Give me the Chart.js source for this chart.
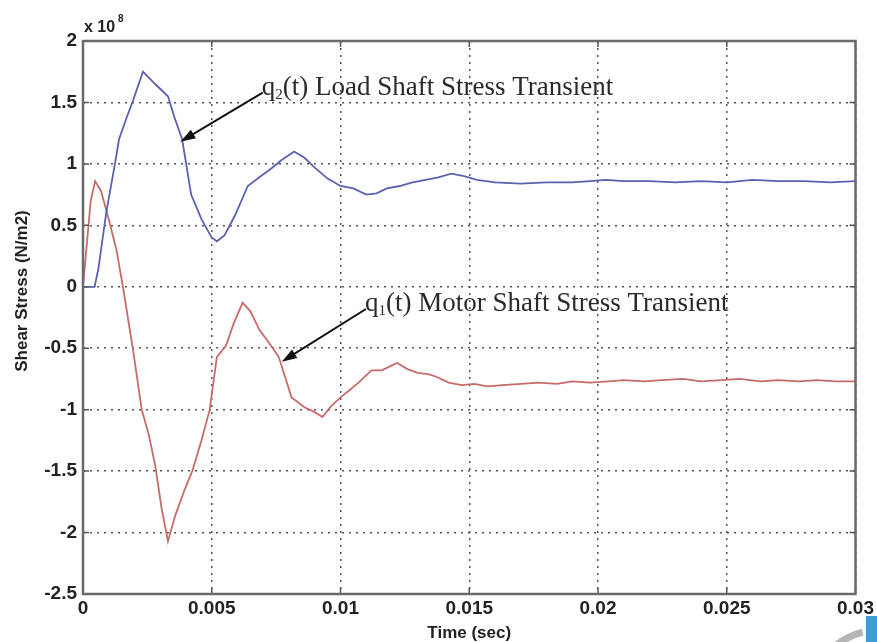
<!DOCTYPE html>
<html>
<head>
<meta charset="utf-8">
<script src="https://cdn.jsdelivr.net/npm/chart.js@4.4.0/dist/chart.umd.min.js"></script>
<style>
  body { margin: 0; background: #fff; }
  canvas { display: block; }
</style>
</head>
<body>
<canvas id="stress_canvas" width="877" height="642"></canvas>
<script>
// data (stress in units of 10^8 N/m2, time in sec)

const loadTime = [0, 0.00045, 0.0006, 0.0009, 0.00124, 0.0014, 0.0017, 0.00195, 0.00233, 0.0028, 0.0033, 0.00355, 0.00385, 0.0042, 0.0046, 0.005, 0.0052, 0.0055, 0.0059, 0.0064, 0.0069, 0.0073, 0.0077, 0.0082, 0.0086, 0.009, 0.0095, 0.01, 0.0105, 0.011, 0.0114, 0.0118, 0.0123, 0.0128, 0.0133, 0.0138, 0.0143, 0.0148, 0.0153, 0.016, 0.017, 0.018, 0.019, 0.0197, 0.0203, 0.021, 0.022, 0.023, 0.024, 0.025, 0.026, 0.027, 0.028, 0.029, 0.03];
const loadStress = [0, 0, 0.15, 0.6, 1.0, 1.2, 1.38, 1.52, 1.75, 1.65, 1.55, 1.38, 1.2, 0.75, 0.55, 0.4, 0.37, 0.42, 0.58, 0.82, 0.9, 0.96, 1.03, 1.1, 1.05, 0.97, 0.88, 0.82, 0.8, 0.75, 0.76, 0.8, 0.82, 0.85, 0.87, 0.89, 0.92, 0.9, 0.87, 0.85, 0.84, 0.85, 0.85, 0.86, 0.87, 0.86, 0.86, 0.85, 0.86, 0.85, 0.87, 0.86, 0.86, 0.85, 0.86];

const motorTime = [0, 0.00015, 0.0003, 0.00047, 0.0007, 0.001, 0.0013, 0.00155, 0.00194, 0.00228, 0.00255, 0.0028, 0.00305, 0.0033, 0.0036, 0.00395, 0.00426, 0.0046, 0.00492, 0.00505, 0.0052, 0.00555, 0.00585, 0.0062, 0.0065, 0.00685, 0.0072, 0.0076, 0.0081, 0.0086, 0.009, 0.0093, 0.0096, 0.01, 0.0103, 0.0107, 0.0112, 0.0116, 0.012, 0.0122, 0.0126, 0.013, 0.0134, 0.0137, 0.0142, 0.0147, 0.0152, 0.0157, 0.0163, 0.017, 0.0177, 0.0184, 0.019, 0.0197, 0.0204, 0.021, 0.0218, 0.0225, 0.0233, 0.024, 0.0248, 0.0255, 0.0263, 0.027, 0.0278, 0.0285, 0.0292, 0.03];
const motorStress = [0, 0.35, 0.7, 0.86, 0.78, 0.55, 0.3, 0.0, -0.51, -1.0, -1.2, -1.45, -1.8, -2.07, -1.85, -1.65, -1.49, -1.25, -1.0, -0.8, -0.57, -0.48, -0.3, -0.13, -0.2, -0.35, -0.45, -0.57, -0.9, -0.98, -1.02, -1.06, -0.98, -0.9, -0.85, -0.78, -0.68, -0.68, -0.64, -0.62, -0.67, -0.7, -0.71, -0.73, -0.78, -0.8, -0.79, -0.81, -0.8, -0.79, -0.78, -0.79, -0.77, -0.78, -0.77, -0.76, -0.77, -0.76, -0.75, -0.77, -0.76, -0.75, -0.77, -0.76, -0.77, -0.76, -0.77, -0.77];

const xTicks = [0, 0.005, 0.01, 0.015, 0.02, 0.025, 0.03];
const yTicks = [2, 1.5, 1, 0.5, 0, -0.5, -1, -1.5, -2, -2.5];

// annotations: [text after q, subscript, text x, text y, arrow tip x, arrow tip y] in data units
const loadNote = ["(t) Load Shaft Stress Transient", "2", 0.00694, 1.62, 0.00378, 1.18];
const motorNote = ["(t) Motor Shaft Stress Transient", "1", 0.01095, -0.14, 0.00772, -0.61];

function points(xs, ys) {
  return xs.map((x, i) => ({ x: x, y: ys[i] }));
}

// frame, inside ticks, labels and arrows
const matlabLook = {
  id: 'matlabLook',
  afterDatasetsDraw(chart) {
    const ctx = chart.ctx;
    const a = chart.chartArea;
    const xs = chart.scales.x;
    const ys = chart.scales.y;
    ctx.save();

    // ticks inside
    ctx.strokeStyle = '#555';
    ctx.lineWidth = 1.5;
    ctx.setLineDash([]);
    xTicks.forEach(v => {
      const px = xs.getPixelForValue(v);
      ctx.beginPath();
      ctx.moveTo(px, a.bottom); ctx.lineTo(px, a.bottom - 6);
      ctx.moveTo(px, a.top); ctx.lineTo(px, a.top + 6);
      ctx.stroke();
    });
    yTicks.forEach(v => {
      const py = ys.getPixelForValue(v);
      ctx.beginPath();
      ctx.moveTo(a.left, py); ctx.lineTo(a.left + 6, py);
      ctx.moveTo(a.right, py); ctx.lineTo(a.right - 6, py);
      ctx.stroke();
    });

    // frame
    ctx.strokeStyle = '#6a6a6a';
    ctx.lineWidth = 2.5;
    ctx.strokeRect(a.left, a.top, a.right - a.left, a.bottom - a.top);

    // exponent
    ctx.fillStyle = '#222';
    ctx.font = 'bold 16px "Liberation Sans", Arial, sans-serif';
    ctx.textBaseline = 'middle';
    ctx.textAlign = 'left';
    ctx.fillText('x 10', a.left + 1, 28);
    ctx.font = 'bold 10px "Liberation Sans", Arial, sans-serif';
    ctx.fillText('8', a.left + 35, 19);

    // axis titles
    ctx.font = 'bold 17px "Liberation Sans", Arial, sans-serif';
    ctx.textAlign = 'center';
    ctx.fillText('Time (sec)', (a.left + a.right) / 2, 633);
    ctx.save();
    ctx.translate(22, 291);
    ctx.rotate(-Math.PI / 2);
    ctx.fillText('Shear Stress (N/m2)', 0, 0);
    ctx.restore();

    // annotations
    [loadNote, motorNote].forEach(n => {
      const tx = xs.getPixelForValue(n[2]);
      const ty = ys.getPixelForValue(n[3]);
      const hx = xs.getPixelForValue(n[4]);
      const hy = ys.getPixelForValue(n[5]);
      ctx.fillStyle = '#2a2a2a';
      ctx.textAlign = 'left';
      ctx.textBaseline = 'alphabetic';
      ctx.font = '27px "Liberation Serif", "Times New Roman", serif';
      ctx.fillText('q', tx, ty + 7);
      const qw = ctx.measureText('q').width;
      ctx.font = '15px "Liberation Serif", "Times New Roman", serif';
      ctx.fillText(n[1], tx + qw, ty + 11);
      const sw = ctx.measureText(n[1]).width;
      ctx.font = '27px "Liberation Serif", "Times New Roman", serif';
      ctx.fillText(n[0], tx + qw + sw, ty + 7);

      // arrow from text to curve
      const sx = tx + 1, sy = ty + 5;
      const ang = Math.atan2(hy - sy, hx - sx);
      ctx.strokeStyle = '#111';
      ctx.lineWidth = 2;
      ctx.beginPath();
      ctx.moveTo(sx, sy);
      ctx.lineTo(hx - 10 * Math.cos(ang), hy - 10 * Math.sin(ang));
      ctx.stroke();
      ctx.fillStyle = '#111';
      ctx.beginPath();
      ctx.moveTo(hx, hy);
      ctx.lineTo(hx - 16 * Math.cos(ang - 0.32), hy - 16 * Math.sin(ang - 0.32));
      ctx.lineTo(hx - 16 * Math.cos(ang + 0.32), hy - 16 * Math.sin(ang + 0.32));
      ctx.closePath();
      ctx.fill();
    });

    // corner logo piece
    ctx.fillStyle = '#3a9fd8';
    ctx.fillRect(866, 616, 11, 26);
    ctx.strokeStyle = '#b5b5b5';
    ctx.lineWidth = 7;
    ctx.beginPath();
    ctx.arc(880, 700, 70, Math.PI * 1.2, Math.PI * 1.42);
    ctx.stroke();
    ctx.restore();
  }
};

const stress_ctx = document.getElementById('stress_canvas').getContext('2d');
const stress_chart = new Chart(stress_ctx, {
  type: 'line',
  data: {
    datasets: [
      {
        label: 'q2(t) Load Shaft Stress Transient',
        data: points(loadTime, loadStress),
        borderColor: '#5a62b0',
        borderWidth: 1.8,
        pointRadius: 0,
        tension: 0,
        fill: false,
      },
      {
        label: 'q1(t) Motor Shaft Stress Transient',
        data: points(motorTime, motorStress),
        borderColor: '#c76b6b',
        borderWidth: 1.8,
        pointRadius: 0,
        tension: 0,
        fill: false,
      },
    ],
  },
  options: {
    responsive: false,
    animation: false,
    layout: { padding: { top: 41, right: 20, left: 0, bottom: 0 } },
    plugins: {
      legend: { display: false },
      tooltip: { enabled: false },
    },
    scales: {
      x: {
        type: 'linear',
        min: 0,
        max: 0.03,
        afterBuildTicks: s => { s.ticks = xTicks.map(v => ({ value: v })); },
        afterFit: s => { s.height = 48; },
        ticks: {
          color: '#222',
          padding: 3,
          maxRotation: 0,
          font: { family: '"Liberation Sans", Arial, sans-serif', size: 19, weight: 'bold' },
          callback: v => String(v),
        },
        grid: { color: '#555', lineWidth: 1.5, drawTicks: false },
        border: { display: false, dash: [2, 5] },
      },
      y: {
        type: 'linear',
        min: -2.5,
        max: 2,
        afterBuildTicks: s => { s.ticks = yTicks.map(v => ({ value: v })); },
        afterFit: s => { s.width = 83; },
        ticks: {
          color: '#222',
          padding: 6,
          font: { family: '"Liberation Sans", Arial, sans-serif', size: 19, weight: 'bold' },
          callback: v => String(v),
        },
        grid: { color: '#555', lineWidth: 1.5, drawTicks: false },
        border: { display: false, dash: [2, 5] },
      },
    },
  },
  plugins: [matlabLook],
});
</script>
</body>
</html>
